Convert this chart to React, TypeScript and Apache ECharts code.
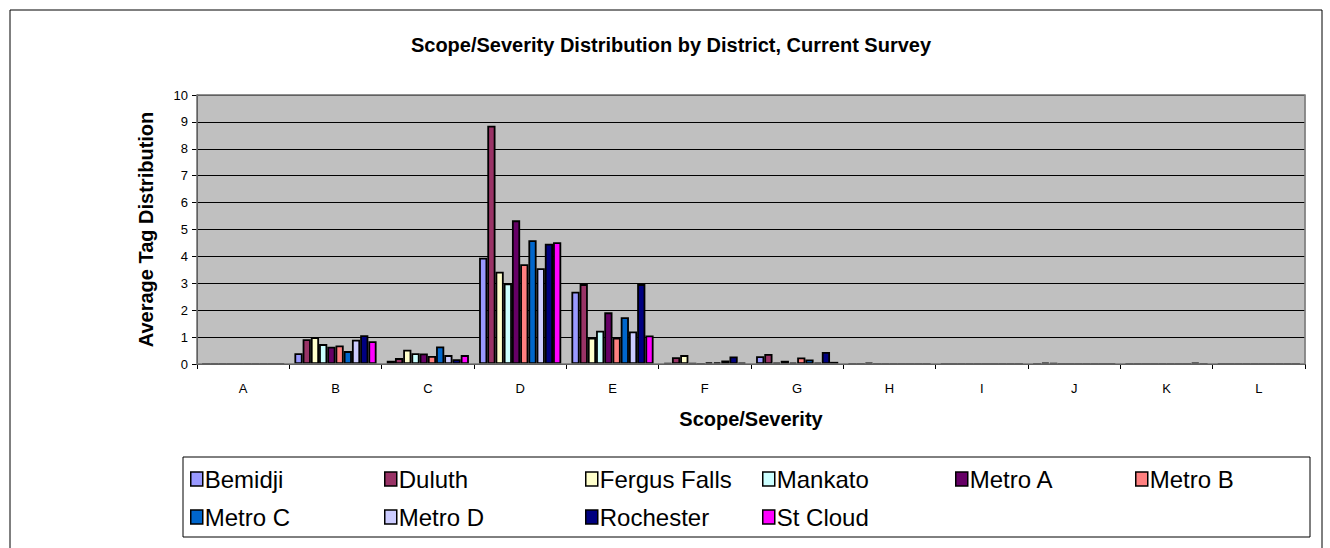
import React, { useEffect, useRef } from "react";
import * as echarts from "echarts";

const categories = ["A", "B", "C", "D", "E", "F", "G", "H", "I", "J", "K", "L"];
const districts = ["Bemidji", "Duluth", "Fergus Falls", "Mankato", "Metro A", "Metro B", "Metro C", "Metro D", "Rochester", "St Cloud"];
const colors = ["#9999FF", "#993366", "#FFFFCC", "#CCFFFF", "#660066", "#FF8080", "#0066CC", "#CCCCFF", "#000080", "#FF00FF"];

const bemidji = [0, 0.4, 0.12, 3.95, 2.69, 0.03, 0.29, 0, 0, 0, 0, 0];
const duluth = [0, 0.92, 0.22, 8.86, 2.97, 0.25, 0.37, 0, 0, 0.05, 0, 0];
const fergusFalls = [0, 1.0, 0.53, 3.43, 0.98, 0.33, 0.05, 0.04, 0, 0.03, 0, 0];
const mankato = [0, 0.74, 0.4, 2.99, 1.24, 0.02, 0.12, 0, 0, 0, 0, 0];
const metroA = [0, 0.64, 0.39, 5.34, 1.92, 0, 0.05, 0, 0, 0, 0, 0];
const metroB = [0, 0.69, 0.3, 3.71, 0.98, 0.06, 0.24, 0, 0, 0, 0, 0];
const metroC = [0, 0.48, 0.65, 4.6, 1.74, 0.06, 0.17, 0, 0, 0, 0, 0];
const metroD = [0, 0.9, 0.33, 3.56, 1.21, 0.13, 0.05, 0, 0, 0, 0, 0];
const rochester = [0, 1.07, 0.18, 4.47, 2.97, 0.28, 0.45, 0, 0, 0, 0.04, 0];
const stCloud = [0, 0.85, 0.33, 4.53, 1.06, 0.04, 0.08, 0, 0, 0, 0, 0];

const seriesValues = [bemidji, duluth, fergusFalls, mankato, metroA, metroB, metroC, metroD, rochester, stCloud];
const yTicks = [0, 10, 1];

const FONT = "'Liberation Sans', Arial, sans-serif";

export default function App() {
  const ref = useRef<HTMLDivElement>(null);
  useEffect(() => {
    if (!ref.current) return;
    const chart = echarts.init(ref.current, null, { renderer: "svg" });
    const legendCols = [
      ["Bemidji", "Metro C"],
      ["Duluth", "Metro D"],
      ["Fergus Falls", "Rochester"],
      ["Mankato", "St Cloud"],
      ["Metro A"],
      ["Metro B"],
    ];
    const legendLefts = [190, 384, 585, 762, 955, 1135];
    const legends = legendCols.map((names, i) => ({
      data: names,
      left: legendLefts[i],
      top: 467,
      orient: "vertical",
      itemGap: 14,
      itemWidth: 12,
      itemHeight: 14,
      icon: "rect",
      selectedMode: false,
      padding: 0,
      textStyle: { fontSize: 24, color: "#000", fontFamily: FONT, padding: [0, 0, 0, -3] },
      itemStyle: { borderColor: "#000", borderWidth: 1.5 },
    }));
    chart.setOption({
      animation: false,
      backgroundColor: "#fff",
      title: {
        text: "Scope/Severity Distribution by District, Current Survey",
        left: 666,
        textAlign: "center",
        top: 30,
        textStyle: { fontSize: 20, fontWeight: "bold", color: "#000", fontFamily: FONT },
      },
      graphic: [
        { type: "rect", shape: { x: 10, y: 10, width: 1312, height: 545 }, style: { fill: "none", stroke: "#000", lineWidth: 1 }, silent: true },
        { type: "rect", shape: { x: 183, y: 457, width: 1127, height: 80 }, style: { fill: "none", stroke: "#000", lineWidth: 1 }, silent: true },
        { type: "rect", shape: { x: 197, y: 95, width: 1108, height: 269 }, style: { fill: "none", stroke: "#808080", lineWidth: 1.5 }, silent: true, z: 10 },
      ],
      legend: legends,
      grid: { left: 197, right: 25, top: 95, bottom: 184, show: true, backgroundColor: "#C0C0C0", borderColor: "#808080", borderWidth: 1 },
      xAxis: {
        type: "category",
        data: categories,
        name: "Scope/Severity",
        nameLocation: "middle",
        nameGap: 45,
        nameTextStyle: { fontSize: 20, fontWeight: "bold", color: "#000", fontFamily: FONT },
        axisLine: { lineStyle: { color: "#000", width: 1 } },
        axisTick: { show: true, length: 5, lineStyle: { color: "#000" } },
        axisLabel: { fontSize: 13, color: "#000", fontFamily: FONT, margin: 18 },
      },
      yAxis: {
        type: "value",
        min: yTicks[0],
        max: yTicks[1],
        interval: yTicks[2],
        name: "Average Tag Distribution",
        nameLocation: "middle",
        nameGap: 41,
        nameTextStyle: { fontSize: 20, fontWeight: "bold", color: "#000", fontFamily: FONT },
        axisLine: { show: true, lineStyle: { color: "#000", width: 1 } },
        axisTick: { show: true, length: 5, lineStyle: { color: "#000" } },
        axisLabel: { fontSize: 13, color: "#000", fontFamily: FONT, margin: 9 },
        splitLine: { lineStyle: { color: "#000", width: 1 } },
      },
      series: districts.map((name, i) => ({
        name,
        type: "bar",
        data: seriesValues[i],
        barGap: "0%",
        barCategoryGap: "11%",
        itemStyle: { color: colors[i], borderColor: "#000", borderWidth: 1.8 },
      })),
    });
    return () => chart.dispose();
  }, []);
  return <div ref={ref} style={{ position: "absolute", left: 0, top: 0, width: 1330, height: 548 }} />;
}
